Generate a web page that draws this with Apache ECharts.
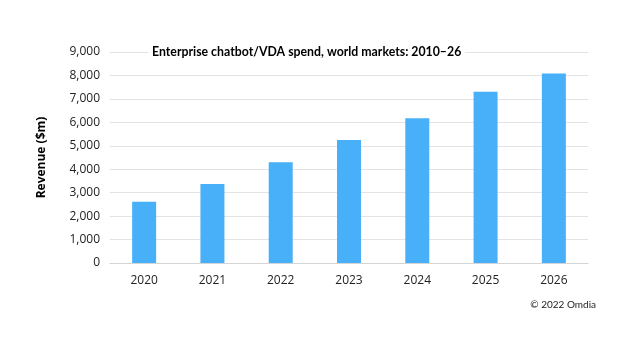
<!DOCTYPE html>
<html>
<head>
<meta charset="utf-8">
<script src="https://cdn.jsdelivr.net/npm/echarts@6/dist/echarts.min.js"></script>
<style>
  html, body { margin: 0; padding: 0; background: #fff; }
  #chart { width: 626px; height: 352px; }
</style>
</head>
<body>
<div id="chart"></div>
<script>
var years = ['2020', '2021', '2022', '2023', '2024', '2025', '2026'];
var revenue = [2610, 3370, 4300, 5250, 6170, 7300, 8080];

var chart = echarts.init(document.getElementById('chart'));
var font = 'Open Sans';

chart.setOption({
  animation: false,
  title: {
    text: 'Enterprise chatbot/VDA spend, world markets: 2010\u201326',
    left: 148,
    top: 44,
    padding: [2, 4],
    backgroundColor: '#fff',
    textStyle: { fontFamily: 'Lato', fontSize: 12.3, fontWeight: 'bold', color: '#000' }
  },
  graphic: [{
    type: 'text',
    right: 30,
    top: 300,
    style: { text: '\u00a9 2022 Omdia', font: '10px Lato', fill: '#222' }
  }],
  grid: { left: 110, right: 38, top: 52, bottom: 89, containLabel: false },
  xAxis: {
    type: 'category',
    data: years,
    axisLine: { lineStyle: { color: '#d4d4d4' } },
    axisTick: { show: false },
    axisLabel: { fontFamily: font, fontSize: 12, color: '#222', margin: 12 }
  },
  yAxis: {
    type: 'value',
    min: 0,
    max: 9000,
    interval: 1000,
    name: 'Revenue ($m)',
    nameLocation: 'middle',
    nameGap: 62,
    nameRotate: 90,
    nameTextStyle: { fontFamily: font, fontSize: 12, fontWeight: 'bold', color: '#000' },
    axisLine: { show: false },
    axisTick: { show: false },
    axisLabel: {
      fontFamily: font, fontSize: 12, color: '#222', margin: 10,
      formatter: function (v) { return v.toLocaleString('en-US'); }
    },
    splitLine: { lineStyle: { color: '#e3e3e3' } }
  },
  series: [{
    type: 'bar',
    data: revenue,
    barWidth: 24,
    itemStyle: { color: '#48aff9' }
  }]
});
</script>
</body>
</html>
